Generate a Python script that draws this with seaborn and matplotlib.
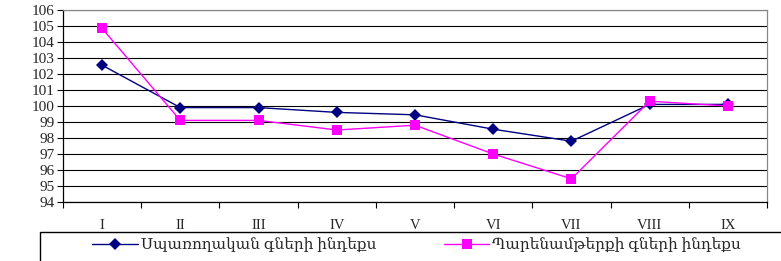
import numpy as np
import pandas as pd
import matplotlib
matplotlib.use('Agg')
import matplotlib.pyplot as plt
import seaborn as sns
from matplotlib.patches import Rectangle

months = ['I', 'II', 'III', 'IV', 'V', 'VI', 'VII', 'VIII', 'IX']
consumer = [102.55, 99.9, 99.9, 99.6, 99.45, 98.55, 97.8, 100.1, 100.1]
grocery = [104.85, 99.1, 99.1, 98.5, 98.8, 97.0, 95.45, 100.3, 100.0]
names = ['Սպառողական գների ինդեքս', 'Պարենամթերքի գների ինդեքս']

sns.set_theme(style='white')
plt.rcParams['font.family'] = ['Liberation Serif', 'DejaVu Serif']

df = pd.DataFrame({
    'month': months * 2,
    'pos': list(range(len(months))) * 2,
    'value': consumer + grocery,
    'series': [names[0]] * len(months) + [names[1]] * len(months),
})

fig = plt.figure(figsize=(7.81, 2.61), dpi=100)
ax = fig.add_axes([63 / 781, 1 - 202 / 261, (767 - 63) / 781, (202 - 10) / 261])

sns.lineplot(data=df, x='pos', y='value', hue='series', style='series',
             palette=['#000080', '#FF00FF'], markers=['D', 's'], dashes=False,
             markersize=6.5, linewidth=1, markeredgewidth=0, ax=ax, legend=True)

ax.set_xlim(-0.5, len(months) - 0.5)
ax.set_ylim(94, 106)
ax.set_yticks(range(94, 107))
ax.yaxis.grid(True, color='black', linewidth=0.8)
ax.set_axisbelow(True)

# ticks at category boundaries, labels centred
ax.set_xticks(np.arange(-0.5, len(months)), minor=False)
ax.set_xticklabels([])
ax.set_xticks(range(len(months)), minor=True)
ax.set_xticklabels(months, minor=True, fontsize=10.5)
ax.tick_params(axis='x', which='major', direction='out', length=4, width=0.8, color='black', bottom=True)
ax.tick_params(axis='x', which='minor', length=0, pad=12)
ax.tick_params(axis='y', direction='out', length=4, width=0.8, color='black', left=True, labelsize=11, pad=2)
ax.set_xlabel('')
ax.set_ylabel('')

for s in ['left', 'bottom']:
    ax.spines[s].set_color('black')
    ax.spines[s].set_linewidth(0.9)
for s in ['top', 'right']:
    ax.spines[s].set_color('#888888')
    ax.spines[s].set_linewidth(0.9)

handles, labels = ax.get_legend_handles_labels()
ax.get_legend().remove()
fig.add_artist(Rectangle((40 / 781, -0.05), 1.0, 0.05 + (261 - 232) / 261,
                         transform=fig.transFigure, fill=False, edgecolor='black', linewidth=1))
fig.legend(handles, labels, loc='center left', bbox_to_anchor=(92 / 781, 1 - 245 / 261),
           ncol=2, frameon=False, handlelength=3, handletextpad=0.2,
           columnspacing=4.4, borderaxespad=0, borderpad=0,
           prop={'family': ['Liberation Serif', 'DejaVu Serif'], 'size': 11})

fig.savefig('out.png', dpi=100)
